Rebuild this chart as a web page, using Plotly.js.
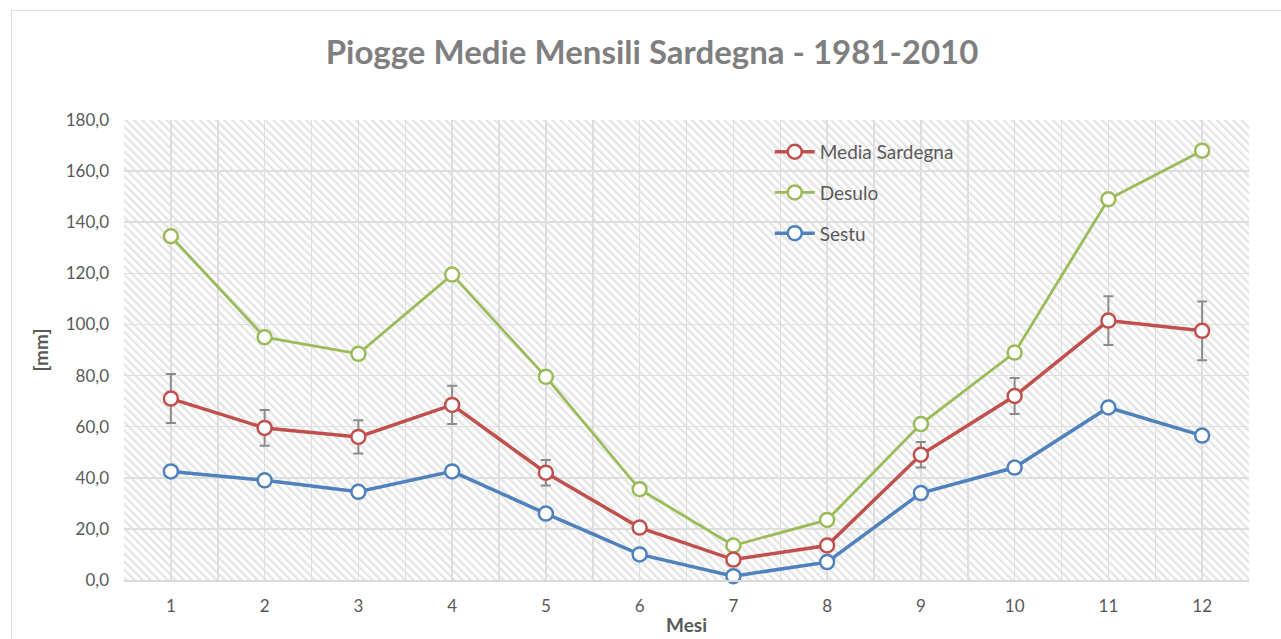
<!DOCTYPE html>
<html>
<head>
<meta charset="utf-8">
<script src="https://cdn.plot.ly/plotly-3.0.1.min.js"></script>
<style>
html,body{margin:0;padding:0;background:#fff;overflow:hidden;}
#chart{position:absolute;left:0;top:0;width:1281px;height:639px;}
#frame{position:absolute;left:11px;top:10px;width:1300px;height:700px;border:1.5px solid #dcdcdc;pointer-events:none;}
</style>
</head>
<body>
<div id="chart"></div>
<div id="frame"></div>
<script>
const months = [1,2,3,4,5,6,7,8,9,10,11,12];
const mediaSardegna = [71.0, 59.5, 56.0, 68.5, 42.0, 20.5, 8.0, 13.5, 49.0, 72.0, 101.5, 97.5];
const mediaSardegnaErr = [9.6, 7.0, 6.5, 7.5, 5.0, 2.0, 1.0, 1.5, 5.0, 7.0, 9.5, 11.5];
const desulo = [134.5, 95.0, 88.5, 119.5, 79.5, 35.5, 13.5, 23.5, 61.0, 89.0, 149.0, 168.0];
const sestu = [42.5, 39.0, 34.5, 42.5, 26.0, 10.0, 1.5, 7.0, 34.0, 44.0, 67.5, 56.5];
const seriesNames = ["Media Sardegna", "Desulo", "Sestu"];
const yTicks = [0, 20, 40, 60, 80, 100, 120, 140, 160, 180];

const FONT = "Lato, 'Open Sans', sans-serif";
const RED = "#C0504D", GREEN = "#9BBB59", BLUE = "#4F81BD";

function mk(name, y, color, lw, group, err) {
  const t = {
    type: "scatter", mode: "lines+markers", name: name, x: months, y: y,
    legendgroup: group,
    line: {color: color, width: lw},
    marker: {symbol: "circle", size: 14, color: "#ffffff", line: {color: color, width: 2.5}},
    cliponaxis: false
  };
  if (err) {
    t.error_y = {type: "data", array: err, visible: true, color: "#8c8c8c", thickness: 2, width: 5};
  }
  return t;
}

const traces = [
  mk(seriesNames[2], sestu, BLUE, 3.5, "c", null),
  mk(seriesNames[1], desulo, GREEN, 2.8, "b", null),
  mk(seriesNames[0], mediaSardegna, RED, 3.5, "a", mediaSardegnaErr)
];
traces[0].legendrank = 3; traces[1].legendrank = 2; traces[2].legendrank = 1;

const W = 1125, H = 460;
const svg = `<svg xmlns="http://www.w3.org/2000/svg" width="${W}" height="${H}" viewBox="0 0 ${W} ${H}" preserveAspectRatio="none">
<defs><pattern id="p" patternUnits="userSpaceOnUse" width="5.8" height="6" patternTransform="rotate(-45)">
<rect x="0" y="0" width="5.8" height="6" fill="#ffffff"/>
<rect x="0" y="0" width="2.4" height="6" fill="#e5e5e5"/></pattern></defs>
<rect x="0" y="0" width="${W}" height="${H}" fill="url(#p)"/></svg>`;
const hatch = "data:image/svg+xml;charset=utf-8," + encodeURIComponent(svg);

const layout = {
  width: 1281, height: 639,
  margin: {l: 124, r: 32, t: 120, b: 59},
  paper_bgcolor: "rgba(0,0,0,0)",
  plot_bgcolor: "#ffffff",
  separators: ",.",
  font: {family: FONT, color: "#595959", size: 17},
  title: {
    text: "<b>Piogge Medie Mensili Sardegna - 1981-2010</b>",
    font: {family: FONT, size: 33, color: "#7f7f7f"},
    x: 0.509, xanchor: "center", y: 0.918, yanchor: "middle"
  },
  showlegend: true,
  legend: {
    x: 0.574, y: 0.972, xanchor: "left", yanchor: "top",
    bgcolor: "rgba(0,0,0,0)", font: {family: FONT, size: 19, color: "#595959"},
    tracegroupgap: 13, itemwidth: 40
  },
  xaxis: {
    range: [0.5, 12.5], tickmode: "array", tickvals: months, ticktext: months.map(String),
    showgrid: true, gridcolor: "#dedede", gridwidth: 1.5,
    minor: {dtick: 0.5, tick0: 0.5, showgrid: true, gridcolor: "#dedede", gridwidth: 1.5},
    showline: true, linecolor: "#d9d9d9", linewidth: 1.5,
    zeroline: false, ticks: "", ticklabelstandoff: 10,
    tickfont: {family: FONT, size: 17, color: "#595959"},
    title: {text: "<b>Mesi</b>", font: {family: FONT, size: 19, color: "#595959"}, standoff: 4}
  },
  yaxis: {
    range: [0, 180], tickmode: "array", tickvals: yTicks, tickformat: ".1f",
    showgrid: true, gridcolor: "#dedede", gridwidth: 1.5,
    zeroline: false, showline: false, ticks: "", ticklabelstandoff: 14,
    tickfont: {family: FONT, size: 17, color: "#595959"},
    title: {text: "<b>[mm]</b>", font: {family: FONT, size: 19, color: "#595959"}, standoff: 12}
  },
  images: [{
    source: hatch, xref: "paper", yref: "paper", x: 0, y: 1, sizex: 1, sizey: 1,
    xanchor: "left", yanchor: "top", sizing: "stretch", layer: "below"
  }]
};

Plotly.newPlot("chart", traces, layout, {displayModeBar: false, staticPlot: true});
</script>
</body>
</html>
